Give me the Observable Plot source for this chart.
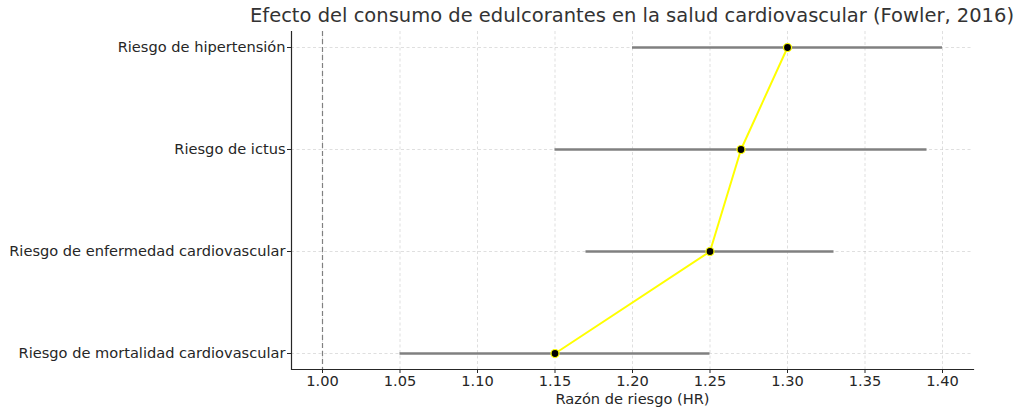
<!DOCTYPE html>
<html>
<head>
<meta charset="utf-8">
<script src="https://cdn.jsdelivr.net/npm/d3@7"></script>
<script src="https://cdn.jsdelivr.net/npm/@observablehq/plot@0.6"></script>
<style>
  html, body { margin: 0; padding: 0; background: #fff; }
  body { width: 1024px; height: 417px; overflow: hidden; font-family: "DejaVu Sans", sans-serif; }
  #title { position: relative; height: 28px; }
  #title span { position: absolute; left: 632px; top: 3px; transform: translateX(-50%);
           font-size: 19.5px; line-height: 26px; color: #333; white-space: nowrap; }
</style>
</head>
<body>
<div id="title"><span>Efecto del consumo de edulcorantes en la salud cardiovascular (Fowler, 2016)</span></div>
<div id="chart"></div>
<script>
const categories = [
  "Riesgo de hipertensión",
  "Riesgo de ictus",
  "Riesgo de enfermedad cardiovascular",
  "Riesgo de mortalidad cardiovascular"
];
const hr = [1.30, 1.27, 1.25, 1.15];
const lower = [1.20, 1.15, 1.17, 1.05];
const upper = [1.40, 1.39, 1.33, 1.25];
const xTicks = [1.00, 1.05, 1.10, 1.15, 1.20, 1.25, 1.30, 1.35, 1.40];
const xDomain = [0.98, 1.42];
const xLabel = "Razón de riesgo (HR)";

const data = categories.map((c, i) => ({cat: c, hr: hr[i], lo: lower[i], hi: upper[i]}));
const lineData = data.slice().reverse();

const chart = Plot.plot({
  width: 1024,
  height: 389,
  marginTop: 3,
  marginBottom: 48,
  marginLeft: 291,
  marginRight: 51,
  style: {fontFamily: "DejaVu Sans, sans-serif", fontSize: "14.6px", color: "#262626", background: "#fff"},
  x: {domain: xDomain},
  y: {type: "point", domain: categories, padding: 0.146},
  marks: [
    Plot.gridX(xTicks, {stroke: "#b0b0b0", strokeOpacity: 0.5, strokeDasharray: "3,2.5", strokeWidth: 0.8}),
    Plot.gridY(categories, {stroke: "#b0b0b0", strokeOpacity: 0.5, strokeDasharray: "3,2.5", strokeWidth: 0.8}),
    Plot.ruleX([1.0], {stroke: "#808080", strokeDasharray: "5,3", strokeWidth: 1.2}),
    Plot.ruleY(data, {y: "cat", x1: "lo", x2: "hi", stroke: "#808080", strokeWidth: 2.5}),
    Plot.line(lineData, {x: "hr", y: "cat", stroke: "#ffff00", strokeWidth: 2}),
    Plot.dot(data, {x: "hr", y: "cat", r: 4, fill: "black", stroke: "#ffff00", strokeWidth: 1.2}),
    Plot.ruleX([xDomain[0]], {stroke: "#262626", strokeWidth: 1.2}),
    Plot.frame({anchor: "bottom", stroke: "#262626", strokeWidth: 1.2}),
    Plot.axisX(xTicks, {tickSize: 4, tickPadding: 2, tickFormat: d3.format(".2f"), label: null, stroke: "#262626", fill: "#262626", fontSize: 14.6}),
    Plot.axisY({tickSize: 4, tickPadding: 2, label: null, stroke: "#262626", fill: "#262626", fontSize: 14.6}),
    Plot.text([xLabel], {frameAnchor: "bottom", dy: 34, fontSize: 14.6, fill: "#262626"})
  ]
});
document.getElementById("chart").appendChild(chart);
</script>
</body>
</html>
